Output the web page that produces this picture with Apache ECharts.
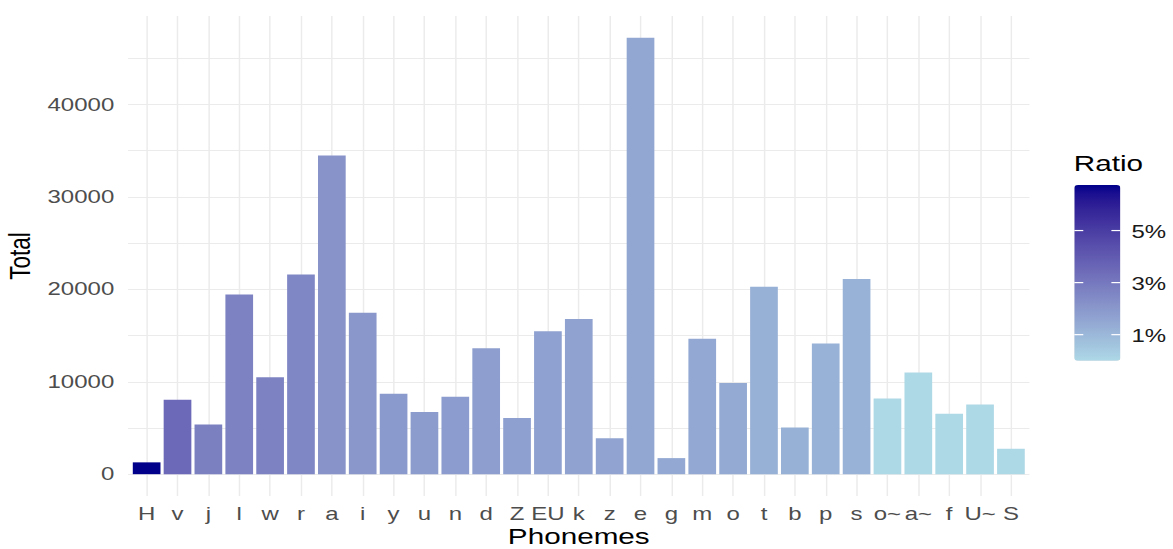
<!DOCTYPE html>
<html><head><meta charset="utf-8">
<script src="https://cdn.jsdelivr.net/npm/echarts@6/dist/echarts.min.js"></script>
<style>
html,body{margin:0;padding:0;background:#fff;overflow:hidden;}
#wrap{width:1173px;height:549px;overflow:hidden;}
#c{width:889px;height:549px;transform:scaleX(1.31946);transform-origin:0 0;}
</style></head>
<body><div id="wrap"><div id="c"></div></div>
<script>
// ---- data ----
const categories = ['H','v','j','l','w','r','a','i','y','u','n','d','Z','EU','k','z','e','g','m','o','t','b','p','s','o~','a~','f','U~','S'];
const totals = [1280, 8050, 5380, 19440, 10500, 21610, 34480, 17460, 8700, 6720, 8375, 13640, 6070, 15480, 16780, 3900, 47220, 1740, 14650, 9860, 20280, 5050, 14140, 21110, 8190, 11000, 6540, 7540, 2750];
const ratios = [6.75, 3.50, 2.77, 2.71, 2.67, 2.52, 2.16, 2.01, 1.92, 1.86, 1.84, 1.74, 1.72, 1.70, 1.65, 1.62, 1.50, 1.45, 1.48, 1.42, 1.22, 1.21, 1.18, 1.16, 0, 0, 0, 0, 0];
const yLabelValues = [0, 10000, 20000, 30000, 40000];
const yGridValues = [0, 5000, 10000, 15000, 20000, 25000, 30000, 35000, 40000, 45000];
const legendTickValues = [1, 3, 5];
const legendTickLabels = ['1%', '3%', '5%'];

// ---- colour scale (Lab interpolation like ggplot) ----
const lowColor = '#ADD8E6', highColor = '#00008B';
function toLin(c){c/=255;return c<=0.04045?c/12.92:Math.pow((c+0.055)/1.055,2.4);}
function toS(c){c=c<=0.0031308?12.92*c:1.055*Math.pow(c,1/2.4)-0.055;return Math.round(Math.max(0,Math.min(1,c))*255);}
function hexLab(h){
  const r=toLin(parseInt(h.slice(1,3),16)),g=toLin(parseInt(h.slice(3,5),16)),b=toLin(parseInt(h.slice(5,7),16));
  const X=(0.4124*r+0.3576*g+0.1805*b)/0.95047,Y=0.2126*r+0.7152*g+0.0722*b,Z=(0.0193*r+0.1192*g+0.9505*b)/1.08883;
  const f=t=>t>0.008856?Math.cbrt(t):7.787*t+16/116;
  const fx=f(X),fy=f(Y),fz=f(Z);
  return [116*fy-16,500*(fx-fy),200*(fy-fz)];
}
function labHex(L,a,bb){
  const fy=(L+16)/116,fx=fy+a/500,fz=fy-bb/200;
  const inv=t=>t*t*t>0.008856?t*t*t:(t-16/116)/7.787;
  const X=inv(fx)*0.95047,Y=inv(fy),Z=inv(fz)*1.08883;
  const r=3.2406*X-1.5372*Y-0.4986*Z,g=-0.9689*X+1.8758*Y+0.0415*Z,b=0.0557*X-0.2040*Y+1.0570*Z;
  return '#'+[toS(r),toS(g),toS(b)].map(v=>v.toString(16).padStart(2,'0')).join('');
}
const lo=hexLab(lowColor),hi=hexLab(highColor);
const stops=[];
for(let k=0;k<=20;k++){const t=k/20;stops.push(labHex(lo[0]+(hi[0]-lo[0])*t,lo[1]+(hi[1]-lo[1])*t,lo[2]+(hi[2]-lo[2])*t));}

// ---- layout ----
const FONT='"Liberation Sans", Arial, sans-serif';
const rMin=Math.min(...ratios), rMax=Math.max(...ratios);
const tMax=Math.max(...totals);
const barLeft=814.2, barTop=185, barW=34.9, barH=175.7;
const idx=categories.map((c,i)=>i);

const graphics=[{type:'text',x:813.8,y:162.9,z:100,style:{text:'Ratio',font:'22.5px '+FONT,fill:'#000',align:'left',verticalAlign:'middle'}}];
legendTickValues.forEach((v,i)=>{
  const y=barTop+(rMax-v)/(rMax-rMin)*barH;
  graphics.push({type:'line',z:100,shape:{x1:barLeft,y1:y,x2:barLeft+6.8,y2:y},style:{stroke:'#fff',lineWidth:1.2}});
  graphics.push({type:'line',z:100,shape:{x1:barLeft+barW-6.8,y1:y,x2:barLeft+barW,y2:y},style:{stroke:'#fff',lineWidth:1.2}});
  graphics.push({type:'text',z:100,x:857.5,y:y+1,style:{text:legendTickLabels[i],font:'18.2px '+FONT,fill:'#1A1A1A',align:'left',verticalAlign:'middle'}});
});

const chart=echarts.init(document.getElementById('c'),null,{renderer:'svg'});
chart.setOption({
  backgroundColor:'#fff',
  animation:false,
  grid:{left:97.1,right:108.8,top:16,bottom:53,containLabel:false,outerBoundsMode:'none'},
  xAxis:{type:'value',min:-0.6,max:categories.length-1+0.6,
    axisLine:{show:false,onZero:false},
    axisTick:{show:false,customValues:idx},
    axisLabel:{customValues:idx,formatter:v=>categories[Math.round(v)],color:'#4D4D4D',fontSize:18.2,fontFamily:FONT,margin:9.5},
    splitLine:{show:true,lineStyle:{color:'#EBEBEB',width:1.1}},
    name:'Phonemes',nameLocation:'middle',nameGap:31,nameMoveOverlap:false,
    nameTextStyle:{color:'#000',fontSize:22.5,lineHeight:18,fontFamily:FONT}},
  yAxis:{type:'value',min:-0.05*tMax,max:1.05*tMax,
    axisLine:{show:false,onZero:false},
    axisTick:{show:false,customValues:yGridValues},
    axisLabel:{customValues:yLabelValues,formatter:v=>String(v),color:'#4D4D4D',fontSize:18.2,fontFamily:FONT,margin:10.5},
    splitLine:{show:true,lineStyle:{color:'#EBEBEB',width:1.1}},
    name:'Total',nameLocation:'middle',nameGap:70.5,nameMoveOverlap:false,
    nameTextStyle:{color:'#000',fontSize:22.5,fontFamily:FONT}},
  visualMap:{type:'continuous',dimension:2,seriesIndex:0,min:rMin,max:rMax,
    inRange:{color:stops},calculable:false,hoverLink:false,
    left:barLeft,top:barTop,itemWidth:barW,itemHeight:barH,padding:0,text:null},
  graphic:graphics,
  series:[{type:'bar',barWidth:'89.7%',
    data:categories.map((c,i)=>[i,totals[i],ratios[i]]),
    encode:{x:0,y:1}}]
});
</script></body></html>
